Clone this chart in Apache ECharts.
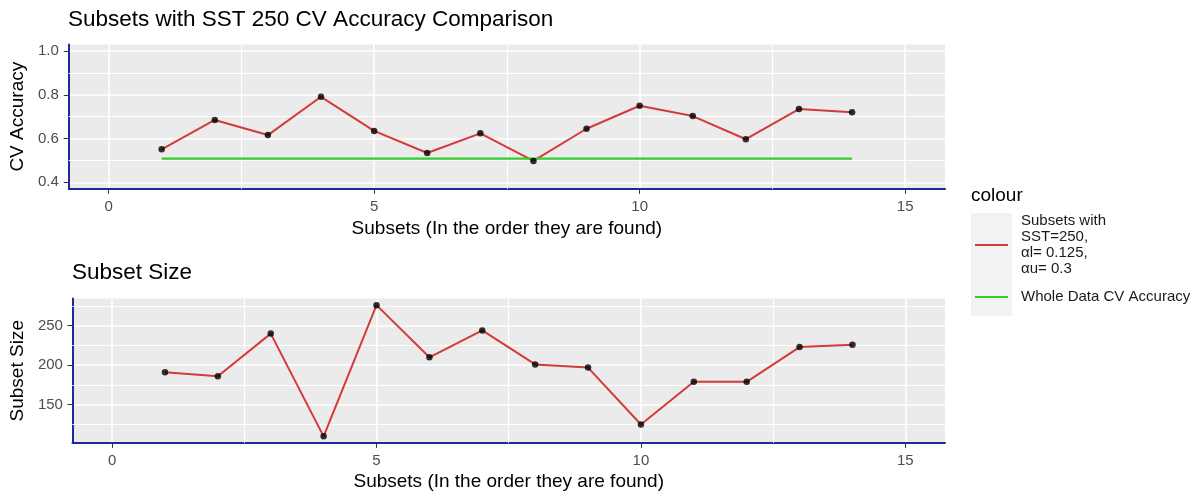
<!DOCTYPE html>
<html>
<head>
<meta charset="utf-8">
<script src="https://cdn.jsdelivr.net/npm/echarts@6/dist/echarts.min.js"></script>
<style>
  html, body { margin: 0; padding: 0; background: #ffffff; }
  #chart { width: 1191px; height: 493px; }
</style>
</head>
<body>
<div id="chart"></div>
<script>
// ---- data ----
const subsets = [1, 2, 3, 4, 5, 6, 7, 8, 9, 10, 11, 12, 13, 14];
const cvAccuracy = [0.551, 0.685, 0.616, 0.791, 0.635, 0.534, 0.624, 0.498, 0.645, 0.750, 0.703, 0.597, 0.735, 0.720];
const wholeAccuracy = 0.508;
const subsetSize = [191, 186, 240, 110, 276, 210, 244, 201, 197, 125, 179, 179, 223, 226];

const xTicks = [0, 5, 10, 15];
const xMinor = [2.5, 7.5, 12.5];
const yTicksTop = [0.4, 0.6, 0.8, 1.0];
const yMinorTop = [0.5, 0.7, 0.9];
const yTicksBottom = [150, 200, 250];
const yMinorBottom = [125, 175, 225, 275];

const mainTitle = 'Subsets with SST 250 CV Accuracy Comparison';
const subTitle = 'Subset Size';
const xName = 'Subsets (In the order they are found)';
const yNameTop = 'CV Accuracy';
const yNameBottom = 'Subset Size';
const legendTitle = 'colour';
const redName = 'Subsets with\nSST=250,\n\u03b1l= 0.125,\n\u03b1u= 0.3';
const greenName = 'Whole Data CV Accuracy';

// ---- styling ----
const FONT = 'Liberation Sans, Arial, Helvetica, sans-serif';
const RED = '#D43A3A';
const GREEN = '#33CC33';
const BLUE = '#1B2B9C';
const PANEL = '#EBEBEB';

const sizeMin = Math.min(...subsetSize), sizeMax = Math.max(...subsetSize);
const sizePad = (sizeMax - sizeMin) * 0.05;

function xAxisCfg(gridIndex, nameGap) {
  return {
    type: 'value', gridIndex, min: -0.75, max: 15.75,
    name: xName, nameLocation: 'middle', nameGap,
    nameTextStyle: { fontFamily: FONT, fontSize: 19, color: '#000' },
    axisLine: { show: true, onZero: false, lineStyle: { color: BLUE, width: 2 } },
    axisTick: { show: true, length: 5, customValues: xTicks, lineStyle: { color: '#333', width: 1 } },
    axisLabel: { customValues: xTicks, margin: 10, fontFamily: FONT, fontSize: 15, color: '#4D4D4D' },
    splitLine: { show: true, lineStyle: { color: '#ffffff', width: 1.6 } }
  };
}
function yAxisCfg(gridIndex, min, max, ticks, name, nameGap, fmt, margin) {
  return {
    type: 'value', gridIndex, min, max, name, nameLocation: 'middle', nameGap,
    nameTextStyle: { fontFamily: FONT, fontSize: 19, color: '#000' },
    axisLine: { show: true, onZero: false, lineStyle: { color: BLUE, width: 2 } },
    axisTick: { show: true, length: 5, customValues: ticks, lineStyle: { color: '#333', width: 1 } },
    axisLabel: { customValues: ticks, margin, formatter: fmt, fontFamily: FONT, fontSize: 15, color: '#4D4D4D' },
    splitLine: { show: true, lineStyle: { color: '#ffffff', width: 1.6 } }
  };
}
function minorLines(xs, ys) {
  return {
    silent: true, symbol: ['none', 'none'], z: 1, animation: false,
    label: { show: false },
    lineStyle: { color: '#ffffff', width: 1, type: 'solid', opacity: 1 },
    emphasis: { disabled: true },
    data: xs.map(v => ({ xAxis: v })).concat(ys.map(v => ({ yAxis: v })))
  };
}

const chart = echarts.init(document.getElementById('chart'), null, { renderer: 'canvas' });
chart.setOption({
  animation: false,
  backgroundColor: '#ffffff',
  title: [
    { text: mainTitle, left: 68, top: 8, padding: 0,
      textStyle: { fontFamily: FONT, fontSize: 22.5, fontWeight: 'normal', color: '#000' } },
    { text: subTitle, left: 72, top: 261, padding: 0,
      textStyle: { fontFamily: FONT, fontSize: 22.5, fontWeight: 'normal', color: '#000' } },
    { text: legendTitle, left: 971, top: 186, padding: 0,
      textStyle: { fontFamily: FONT, fontSize: 19, fontWeight: 'normal', color: '#000' } }
  ],
  graphic: [
    { type: 'rect', left: 971, top: 213, z: 0, silent: true,
      shape: { width: 41, height: 103 }, style: { fill: '#F2F2F2' } }
  ],
  legend: {
    orient: 'vertical', left: 975, top: 213, padding: 0, z: 10,
    itemWidth: 33, itemHeight: 2, itemGap: 12, icon: 'rect',
    selectedMode: false,
    textStyle: { fontFamily: FONT, fontSize: 15, lineHeight: 16, color: '#1A1A1A', padding: [0, 0, 0, 8] },
    data: [redName, greenName]
  },
  grid: [
    { left: 68, right: 246, top: 44.5, height: 144.4, show: true, backgroundColor: PANEL, borderWidth: 0 },
    { left: 72.3, right: 246, top: 298.6, height: 144.3, show: true, backgroundColor: PANEL, borderWidth: 0 }
  ],
  xAxis: [xAxisCfg(0, 30), xAxisCfg(1, 29)],
  yAxis: [
    yAxisCfg(0, 0.37, 1.03, yTicksTop, yNameTop, 40.5, v => v.toFixed(1), 10),
    yAxisCfg(1, sizeMin - sizePad, sizeMax + sizePad, yTicksBottom, yNameBottom, 44.8, v => String(v), 9.5)
  ],
  series: [
    { name: redName, type: 'line', xAxisIndex: 0, yAxisIndex: 0, z: 3,
      data: subsets.map((s, i) => [s, cvAccuracy[i]]),
      showSymbol: false, symbol: 'none',
      itemStyle: { color: RED }, lineStyle: { color: RED, width: 2 } },
    { name: greenName, type: 'line', xAxisIndex: 0, yAxisIndex: 0, z: 3,
      data: [[subsets[0], wholeAccuracy], [subsets[subsets.length - 1], wholeAccuracy]],
      showSymbol: false, symbol: 'none',
      itemStyle: { color: GREEN }, lineStyle: { color: GREEN, width: 2.2 } },
    { name: 'cvPoints', type: 'scatter', xAxisIndex: 0, yAxisIndex: 0, z: 4,
      data: subsets.map((s, i) => [s, cvAccuracy[i]]),
      symbolSize: 6.5, itemStyle: { color: '#000' },
      markLine: minorLines(xMinor, yMinorTop) },
    { name: redName, type: 'line', xAxisIndex: 1, yAxisIndex: 1, z: 3,
      data: subsets.map((s, i) => [s, subsetSize[i]]),
      showSymbol: false, symbol: 'none',
      itemStyle: { color: RED }, lineStyle: { color: RED, width: 2 } },
    { name: 'sizePoints', type: 'scatter', xAxisIndex: 1, yAxisIndex: 1, z: 4,
      data: subsets.map((s, i) => [s, subsetSize[i]]),
      symbolSize: 6.5, itemStyle: { color: '#000' },
      markLine: minorLines(xMinor, yMinorBottom) }
  ]
});
</script>
</body>
</html>
